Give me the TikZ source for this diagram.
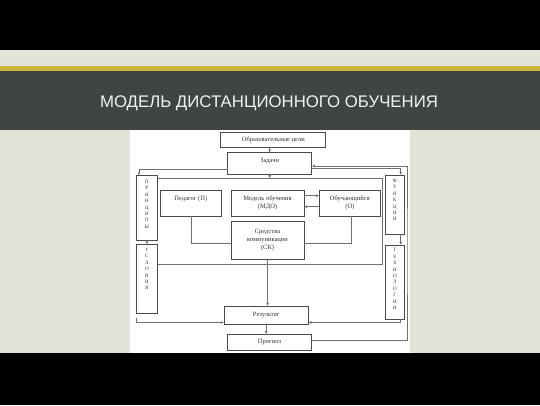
\documentclass[tikz,border=0pt]{standalone}
\usepackage{fontspec}
\setmainfont{Liberation Serif}
\newfontfamily\titlefont{Liberation Sans}
\usetikzlibrary{arrows.meta}
\definecolor{band}{HTML}{3F4543}
\definecolor{beige}{HTML}{E3E3D8}
\definecolor{gold}{HTML}{C9B43C}
\definecolor{titlec}{HTML}{F2F2F2}
\definecolor{boxc}{HTML}{4A4A4A}
\definecolor{linec}{HTML}{707070}
\definecolor{textc}{HTML}{333333}
\begin{document}
\begin{tikzpicture}[x=1pt,y=-1pt,
  box/.style={draw=boxc, line width=0.7pt, fill=white, inner sep=0pt, outer sep=0pt,
    align=center, text=textc, font=\fontsize{6.5}{8}\selectfont},
  conn/.style={draw=linec, line width=0.6pt},
  arr/.style={conn, -{Latex[length=3.2pt,width=2.8pt]}},
  lett/.style={font=\fontsize{5}{6.4}\selectfont, align=center, inner sep=0pt, text=textc}]
\useasboundingbox (0,0) rectangle (540,405);
% background
\fill[black] (0,0) rectangle (540,50);
\fill[beige] (0,50) rectangle (540,353);
\fill[gold] (0,66) rectangle (540,70.5);
\fill[band] (0,70.5) rectangle (540,130);
\fill[white] (130,130) rectangle (410,353);
\fill[black] (0,353) rectangle (540,405);
\node[font=\titlefont\fontsize{16.8}{18}\selectfont, text=titlec] (title) at (269,103) {МОДЕЛЬ ДИСТАНЦИОННОГО ОБУЧЕНИЯ};
% coordinates
\coordinate (e1) at (157.7,178.3);
\coordinate (e2) at (382,178.3);
\coordinate (e3) at (382,264.3);
\coordinate (e4) at (157.7,264.3);
\coordinate (rc) at (407,250);
% boxes
\node[box, minimum width=105pt, minimum height=15.7pt] (obr) at (273.3,139.8) {Образовательные цели};
\node[box, minimum width=84pt, minimum height=21.6pt, text depth=7pt] (zad) at (269.7,163.5) {Задачи};
\node[box, minimum width=21.7pt, minimum height=64.5pt,
  label={[lett,anchor=north,yshift=-4.5pt]north:{П\\Р\\И\\Н\\Ц\\И\\П\\Ы}}] (pr) at (146.85,207.75) {};
\node[box, minimum width=21.7pt, minimum height=69pt,
  label={[lett,anchor=north,yshift=-3.5pt]north:{У\\С\\Л\\О\\В\\И\\Я}}] (us) at (146.85,279) {};
\node[box, minimum width=18.3pt, minimum height=59pt,
  label={[lett,anchor=north,yshift=-4pt]north:{Ф\\У\\Н\\К\\Ц\\И\\И}}] (fun) at (394.85,204.5) {};
\node[box, minimum width=18.3pt, minimum height=74.3pt,
  label={[lett,anchor=north,yshift=-3.5pt]north:{Т\\Е\\Х\\Н\\О\\Л\\О\\Г\\И\\И}}] (tech) at (394.85,282.15) {};
\node[box, minimum width=60.3pt, minimum height=26pt] (ped) at (190.85,203) {Педагог (П)\\\phantom{(П)}};
\node[box, minimum width=73pt, minimum height=26pt] (mdo) at (267.5,203) {Модель обучения\\(МДО)};
\node[box, minimum width=61.2pt, minimum height=26pt] (obu) at (349.9,203) {Обучающийся\\(О)};
\node[box, minimum width=73pt, minimum height=37.3pt] (sk) at (267.5,240.35) {Средства\\коммуникации\\(СК)};
\node[box, minimum width=84.3pt, minimum height=18pt] (res) at (266.15,315) {Результат};
\node[box, minimum width=84.4pt, minimum height=16.4pt] (prog) at (269.5,342.5) {Прогноз};
% connectors
\draw[conn] (e1) -- (e2) -- (e3) -- (e4);
\draw[arr] (obr.south -| zad.north) -- (zad.north);
\draw[arr] (zad.south) -- (zad.south |- e1);
\draw[arr] ([yshift=-5.8pt]zad.west) -| ([xshift=-8pt]pr.north);
\draw[arr] (pr.south) -- (us.north);
\draw[arr] ([yshift=-4pt]us.south west) |- ([yshift=-7.5pt]res.west);
\draw[arr] ([yshift=-4.8pt]zad.east) -| ([xshift=5.8pt]fun.north);
\draw[arr] ([xshift=5.8pt]fun.south) -- ([xshift=5.8pt]tech.north);
\draw[arr] ([xshift=5.8pt]tech.south) |- ([yshift=-7.5pt]res.east);
\draw[arr] ([yshift=2.5pt]prog.east) -| (rc) |- ([yshift=-2.5pt]zad.east);
\draw[arr] ([yshift=7.3pt]mdo.east) -- ([yshift=7.3pt]obu.west);
\draw[arr] ([yshift=-3.7pt]obu.west) -- ([yshift=-3.7pt]mdo.east);
\draw[conn] (ped.south) |- ([yshift=-3pt]sk.west);
\draw[conn] ([xshift=1pt]obu.south) |- ([yshift=-3pt]sk.east);
\draw[arr] (sk.south) -- (sk.south |- res.north);
\draw[arr] (res.south) -- (res.south |- prog.north);
\end{tikzpicture}
\end{document}
